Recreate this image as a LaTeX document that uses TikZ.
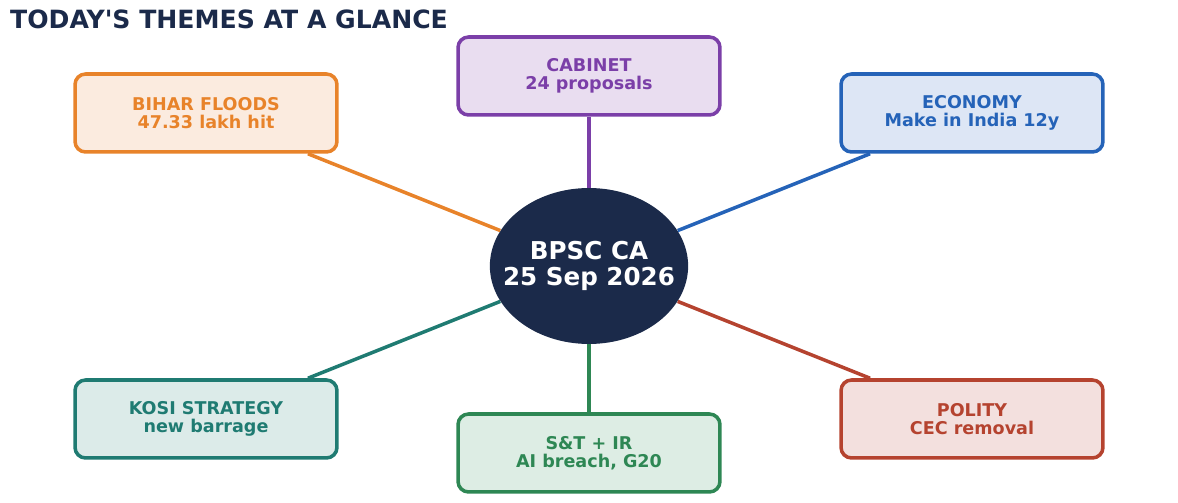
\documentclass[tikz,border=0pt]{standalone}
\usepackage{fontspec}
\setmainfont{DejaVu Sans}[Ligatures=TeXOff]
\usetikzlibrary{shapes.geometric}
\definecolor{navy}{HTML}{1B2A4A}
\definecolor{orng}{HTML}{E8832A}\definecolor{orngbg}{HTML}{FBEBDF}
\definecolor{purp}{HTML}{7B3FA8}\definecolor{purpbg}{HTML}{E9DDF0}
\definecolor{blu}{HTML}{2563B8}\definecolor{blubg}{HTML}{DDE6F5}
\definecolor{teal2}{HTML}{1F7B72}\definecolor{tealbg}{HTML}{DCEBE9}
\definecolor{grn}{HTML}{2E8754}\definecolor{grnbg}{HTML}{DDEDE4}
\definecolor{rd}{HTML}{B5432F}\definecolor{rdbg}{HTML}{F3E0DE}
\tikzset{
  theme/.style n args={2}{draw=#1, fill=#2, text=#1, line width=2pt,
    rounded corners=6pt, minimum width=5.24cm, minimum height=1.56cm,
    align=center, font=\bfseries\fontsize{10}{10.5}\selectfont},
  spoke/.style={line width=2pt}
}
\begin{document}
\begin{tikzpicture}[x=0.02cm,y=-0.02cm]
  \useasboundingbox (0,0) rectangle (1178,503);
  \node[anchor=west, text=navy, font=\bfseries\fontsize{14.3}{17}\selectfont] (title) at (4,19) {TODAY\textquotesingle S THEMES AT A GLANCE};

  \node[ellipse, fill=navy, text=white, inner xsep=-9pt, inner ysep=0pt, minimum width=3.96cm, minimum height=3.12cm,
    align=center, font=\bfseries\fontsize{14}{14.5}\selectfont] (ctr) at (589,266) {BPSC CA\\25 Sep 2026};

  \node[theme={orng}{orngbg}] (bihar) at (206,113) {BIHAR FLOODS\\47.33 lakh hit};
  \node[theme={purp}{purpbg}] (cab) at (589,76) {CABINET\\24 proposals};
  \node[theme={blu}{blubg}] (econ) at (972,113) {ECONOMY\\Make in India 12y};
  \node[theme={teal2}{tealbg}] (kosi) at (206,419) {KOSI STRATEGY\\new barrage};
  \node[theme={grn}{grnbg}] (st) at (589,453) {S\&T + IR\\AI breach, G20};
  \node[theme={rd}{rdbg}] (pol) at (972,419) {POLITY\\CEC removal};

  \draw[spoke, draw=orng] (ctr) -- (bihar);
  \draw[spoke, draw=purp] (ctr) -- (cab);
  \draw[spoke, draw=blu] (ctr) -- (econ);
  \draw[spoke, draw=teal2] (ctr) -- (kosi);
  \draw[spoke, draw=grn] (ctr) -- (st);
  \draw[spoke, draw=rd] (ctr) -- (pol);
\end{tikzpicture}
\end{document}
